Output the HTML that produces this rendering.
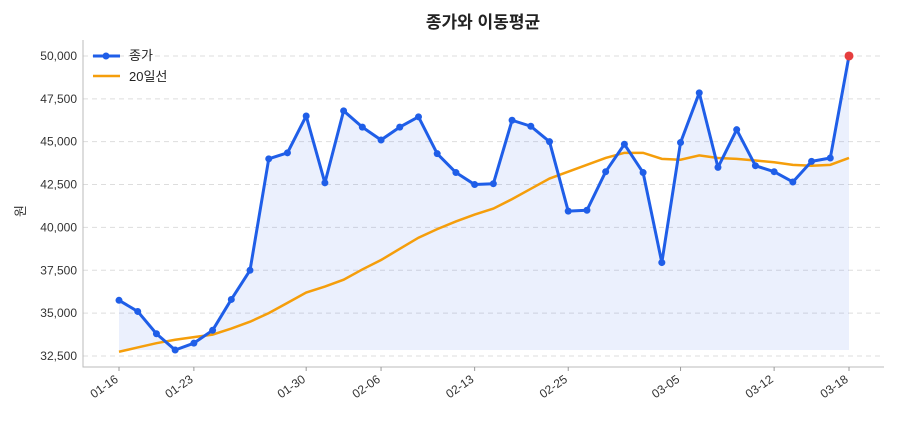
<!DOCTYPE html>
<html><head><meta charset="utf-8">
<style>
body{margin:0;background:#fff;font-family:"Liberation Sans","Noto Sans CJK KR",sans-serif;}
svg text{font-family:"Liberation Sans","Noto Sans CJK KR",sans-serif;}
</style></head>
<body>
<svg id="chart" width="900" height="420" xmlns="http://www.w3.org/2000/svg">
<text x="483" y="28" text-anchor="middle" font-size="17" font-weight="bold" fill="#222">종가와 이동평균</text>
<text transform="translate(25,211) rotate(-90)" text-anchor="middle" font-size="13" fill="#333">원</text>
<g id="grid"></g><g id="marks"></g><g id="axes"></g>
<g>
<g><line x1="93" y1="56" x2="120" y2="56" stroke="#1f5ee8" stroke-width="3"/><circle cx="106" cy="56" r="3.5" fill="#1f5ee8"/><text x="129" y="60" font-size="13" fill="#222">종가</text></g>
<g><line x1="93" y1="76" x2="120" y2="76" stroke="#f59e0b" stroke-width="2.5"/><text x="129" y="81" font-size="13" fill="#222">20일선</text></g>
</g>
</svg>
<script>
const closes=[35750,35100,33800,32850,33250,34000,35800,37500,44000,44350,46500,42600,46800,45850,45100,45850,46450,44300,43200,42500,42550,46250,45900,45000,40950,41000,43250,44850,43200,37950,44950,47850,43500,45700,43600,43250,42650,43850,44050,50000];
const ma20=[32750,33000,33250,33450,33600,33750,34100,34500,35000,35600,36200,36550,36950,37550,38100,38750,39400,39900,40350,40750,41100,41650,42250,42850,43250,43650,44050,44350,44350,44000,43950,44200,44050,44000,43900,43800,43650,43600,43650,44050];
const tickIdx=[0,4,10,14,19,24,30,35,39];
const tickLabels=["01-16","01-23","01-30","02-06","02-13","02-25","03-05","03-12","03-18"];
const yTicks=[32500,35000,37500,40000,42500,45000,47500,50000];
const NS="http://www.w3.org/2000/svg";
const X0=119,X1=849,Y0=367,Y1=40,vMin=31860,vMax=50930;
const x=i=>X0+(X1-X0)*i/(closes.length-1);
const y=v=>Y0-(v-vMin)/(vMax-vMin)*(Y0-Y1);
function mk(t,a,p){const e=document.createElementNS(NS,t);for(const k in a)e.setAttribute(k,a[k]);p.appendChild(e);return e;}
const grid=document.getElementById('grid'),marks=document.getElementById('marks'),axes=document.getElementById('axes');
yTicks.forEach(v=>{
 const l=mk('line',{x1:83,x2:884,y1:y(v),y2:y(v),stroke:'#ddd','stroke-dasharray':'5,4'},grid);
 
 
 const t=mk('text',{x:77,y:y(v)+4,'text-anchor':'end','font-size':'12',fill:'#333'},axes);
 t.textContent=v.toLocaleString('en-US');
 
 
});
const ax=mk('path',{d:`M83,${Y1} V${Y0} H884`,stroke:'#bbb',fill:'none'},axes);


tickIdx.forEach((ix,k)=>{
 mk('line',{x1:x(ix),x2:x(ix),y1:Y0,y2:Y0+4,stroke:'#999'},axes);
 const t=mk('text',{x:x(ix),y:Y0+14,'text-anchor':'end','font-size':'12',fill:'#333',transform:`rotate(-35 ${x(ix)} ${Y0+14})`},axes);
 t.textContent=tickLabels[k];
 
 
});
const minV=Math.min(...closes);
let d=closes.map((v,i)=>(i?'L':'M')+x(i)+','+y(v)).join(' ');
const area=mk('path',{d:d+` L${x(closes.length-1)},${y(minV)} L${x(0)},${y(minV)} Z`,fill:'#1f5ee8','fill-opacity':'0.09'},marks);


const ml=mk('path',{d:ma20.map((v,i)=>(i?'L':'M')+x(i)+','+y(v)).join(' '),stroke:'#f59e0b','stroke-width':'2.5',fill:'none'},marks);


const cl=mk('path',{d:d,stroke:'#1f5ee8','stroke-width':'3',fill:'none','stroke-linejoin':'round'},marks);


closes.forEach((v,i)=>{
 const last=i===closes.length-1;
 const c=mk('circle',{cx:x(i),cy:y(v),r:last?4.5:3.5,fill:last?'#e53e3e':'#1f5ee8'},marks);
 
 
});
</script>
</body></html>
